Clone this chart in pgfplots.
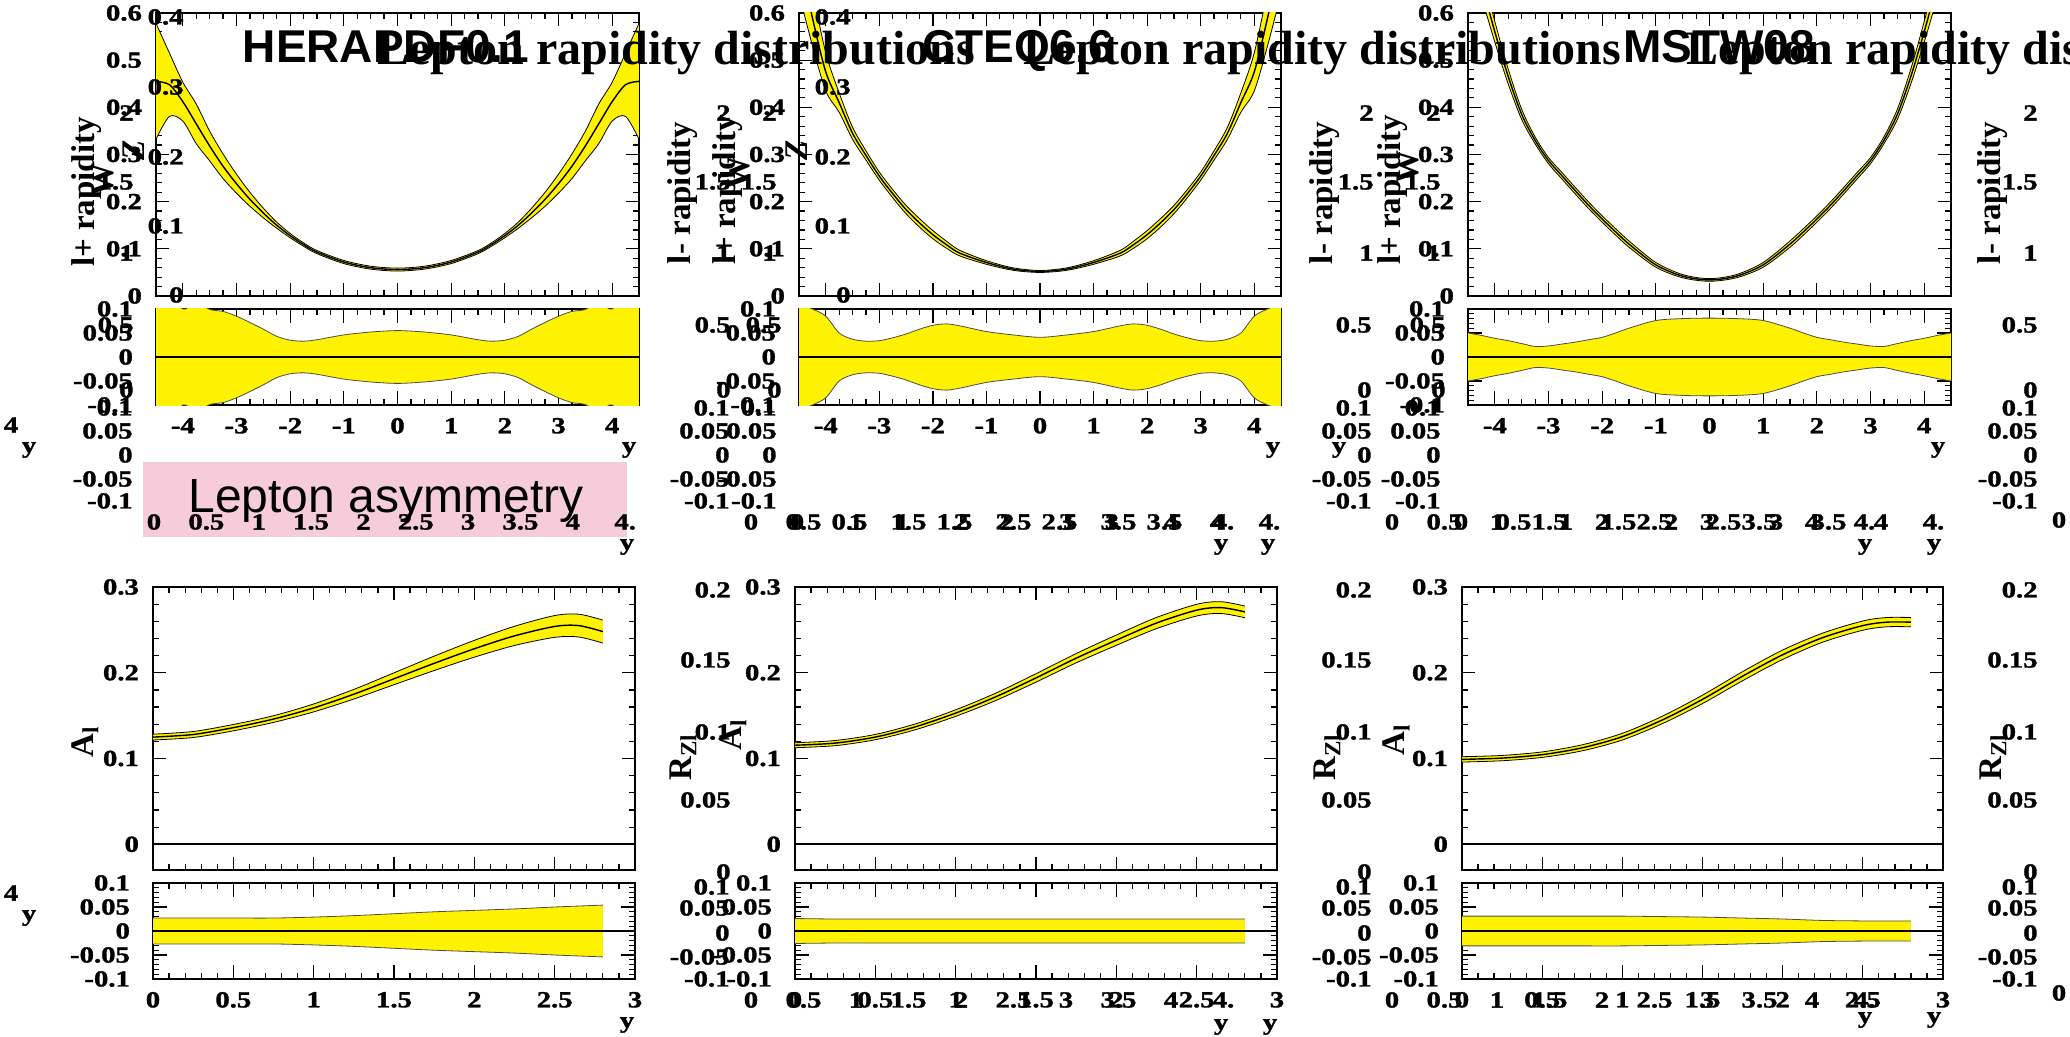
\documentclass[border=0pt]{standalone}
\usepackage{pgfplots}
\pgfplotsset{compat=1.18}
\usepackage{pgfplotstable}
\usepgfplotslibrary{fillbetween}
\usepackage{fontspec}
\setmainfont{Liberation Serif}
\newfontfamily\helv{Liberation Sans}
\newfontfamily\tlfam{Liberation Serif}[FakeStretch=1.25, BoldFeatures={FakeStretch=1.25, FakeBold=1.5}]
\definecolor{pinkbox}{RGB}{246,204,218}
\newcommand\tlfont{\tlfam\bfseries\fontsize{11.5}{12}\selectfont}
\newcommand\axfont{\fontsize{16.5}{18}\selectfont\bfseries}

% ---- data: top panels (x, central, lower, upper, rel. up, rel. down)
\pgfplotstableread{
x c lo hi r m
-4.5 .455 .3322 .5779 .270 -.270
-4.25 .448 .3808 .5152 .150 -.150
-4 .412 .3708 .4532 .100 -.100
-3.75 .365 .3230 .4070 .115 -.115
-3.5 .318 .2865 .3495 .099 -.099
-3.25 .275 .2489 .3011 .095 -.095
-3 .238 .2178 .2582 .085 -.085
-2.75 .205 .1902 .2198 .072 -.072
-2.5 .176 .1658 .1862 .058 -.058
-2.25 .150 .1436 .1565 .043 -.043
-2 .128 .1235 .1325 .035 -.035
-1.75 .109 .1054 .1126 .033 -.033
-1.5 .093 .0897 .0963 .036 -.036
-1 .072 .0687 .0753 .046 -.046
-0.5 .060 .0569 .0631 .052 -.052
0 .056 .0529 .0591 .055 -.055
0.5 .060 .0569 .0631 .052 -.052
1 .072 .0687 .0753 .046 -.046
1.5 .093 .0897 .0963 .036 -.036
1.75 .109 .1054 .1126 .033 -.033
2 .128 .1235 .1325 .035 -.035
2.25 .150 .1436 .1565 .043 -.043
2.5 .176 .1658 .1862 .058 -.058
2.75 .205 .1902 .2198 .072 -.072
3 .238 .2178 .2582 .085 -.085
3.25 .275 .2489 .3011 .095 -.095
3.5 .318 .2865 .3495 .099 -.099
3.75 .365 .3230 .4070 .115 -.115
4 .412 .3708 .4532 .100 -.100
4.25 .448 .3808 .5152 .150 -.150
4.5 .455 .3322 .5779 .270 -.270
}\tHtop
\pgfplotstableread{
x c lo hi r m
-4.5 .720 .6408 .7992 .110 -.110
-4.25 .590 .5310 .6490 .100 -.100
-4 .475 .4346 .5154 .085 -.085
-3.75 .410 .3895 .4305 .050 -.050
-3.5 .345 .3322 .3578 .037 -.037
-3.25 .298 .2882 .3078 .033 -.033
-3 .254 .2454 .2626 .034 -.034
-2.75 .217 .2083 .2257 .040 -.040
-2.5 .183 .1742 .1918 .048 -.048
-2.25 .155 .1460 .1640 .058 -.058
-2 .130 .1214 .1386 .066 -.066
-1.75 .109 .1015 .1165 .069 -.069
-1.5 .091 .0851 .0969 .065 -.065
-1 .071 .0672 .0748 .053 -.053
-0.5 .057 .0544 .0596 .046 -.046
0 .052 .0499 .0541 .041 -.041
0.5 .057 .0544 .0596 .046 -.046
1 .071 .0672 .0748 .053 -.053
1.5 .091 .0851 .0969 .065 -.065
1.75 .109 .1015 .1165 .069 -.069
2 .130 .1214 .1386 .066 -.066
2.25 .155 .1460 .1640 .058 -.058
2.5 .183 .1742 .1918 .048 -.048
2.75 .217 .2083 .2257 .040 -.040
3 .254 .2454 .2626 .034 -.034
3.25 .298 .2882 .3078 .033 -.033
3.5 .345 .3322 .3578 .037 -.037
3.75 .410 .3895 .4305 .050 -.050
4 .475 .4346 .5154 .085 -.085
4.25 .590 .5310 .6490 .100 -.100
4.5 .720 .6408 .7992 .110 -.110
}\tCtop
\pgfplotstableread{
x c lo hi r m
-4.5 .780 .7410 .8190 .050 -.050
-4.25 .665 .6351 .6949 .045 -.045
-4 .560 .5382 .5818 .039 -.039
-3.75 .465 .4492 .4808 .034 -.034
-3.5 .385 .3742 .3958 .028 -.028
-3.25 .330 .3227 .3373 .022 -.022
-3 .287 .2804 .2936 .023 -.023
-2.75 .255 .2481 .2619 .027 -.027
-2.5 .223 .2161 .2299 .031 -.031
-2.25 .192 .1851 .1989 .036 -.036
-2 .163 .1563 .1697 .041 -.041
-1.75 .136 .1292 .1428 .050 -.050
-1.5 .110 .1034 .1166 .060 -.060
-1 .066 .0610 .0710 .076 -.076
-0.5 .042 .0386 .0454 .080 -.080
0 .034 .0312 .0368 .081 -.081
0.5 .042 .0386 .0454 .080 -.080
1 .066 .0610 .0710 .076 -.076
1.5 .110 .1034 .1166 .060 -.060
1.75 .136 .1292 .1428 .050 -.050
2 .163 .1563 .1697 .041 -.041
2.25 .192 .1851 .1989 .036 -.036
2.5 .223 .2161 .2299 .031 -.031
2.75 .255 .2481 .2619 .027 -.027
3 .287 .2804 .2936 .023 -.023
3.25 .330 .3227 .3373 .022 -.022
3.5 .385 .3742 .3958 .028 -.028
3.75 .465 .4492 .4808 .034 -.034
4 .560 .5382 .5818 .039 -.039
4.25 .665 .6351 .6949 .045 -.045
4.5 .780 .7410 .8190 .050 -.050
}\tMtop
% ---- data: lepton asymmetry
\pgfplotstableread{
x c lo hi r m
0 .125 .1216 .1284 .027 -.027
0.25 .128 .1245 .1315 .027 -.027
0.5 .136 .1323 .1397 .027 -.027
0.75 .146 .1421 .1499 .027 -.027
1 .159 .1544 .1636 .029 -.029
1.25 .175 .1694 .1806 .032 -.032
1.5 .193 .1861 .1999 .036 -.036
1.75 .211 .2026 .2194 .040 -.040
2 .228 .2182 .2378 .043 -.043
2.25 .243 .2318 .2542 .046 -.046
2.5 .254 .2413 .2667 .050 -.050
2.65 .255 .2417 .2683 .052 -.052
2.8 .248 .2346 .2614 .054 -.054
}\tHbot
\pgfplotstableread{
x c lo hi r m
0 .1155 .1126 .1184 .026 -.026
0.25 .118 .1150 .1210 .025 -.025
0.5 .125 .1219 .1281 .025 -.025
0.75 .137 .1336 .1404 .025 -.025
1 .153 .1492 .1568 .025 -.025
1.25 .172 .1677 .1763 .025 -.025
1.5 .194 .1891 .1989 .025 -.025
1.75 .217 .2116 .2224 .025 -.025
2 .238 .2320 .2440 .025 -.025
2.25 .258 .2515 .2645 .025 -.025
2.5 .273 .2662 .2798 .025 -.025
2.65 .276 .2691 .2829 .025 -.025
2.8 .271 .2642 .2778 .025 -.025
}\tCbot
\pgfplotstableread{
x c lo hi r m
0 .099 .0959 .1021 .031 -.031
0.25 .1005 .0974 .1036 .031 -.031
0.5 .1045 .1013 .1077 .031 -.031
0.75 .1125 .1090 .1160 .031 -.031
1 .1255 .1216 .1294 .031 -.031
1.25 .145 .1407 .1494 .030 -.030
1.5 .169 .1641 .1739 .029 -.029
1.75 .196 .1907 .2013 .027 -.027
2 .221 .2155 .2265 .025 -.025
2.25 .241 .2357 .2463 .022 -.022
2.5 .255 .2496 .2604 .021 -.021
2.65 .259 .2536 .2644 .021 -.021
2.8 .259 .2536 .2644 .021 -.021
}\tMbot

\pgfplotsset{
  rbase/.style={scale only axis, anchor=north west,
    axis line style={line width=0.9pt},
    tick align=inside,
    major tick length=6.5pt, minor tick length=3pt,
    tick style={black, line width=0.6pt},
    tick label style={font=\tlfont},
    /pgf/number format/assume math mode=true,
    /pgf/number format/fixed,
    yticklabel style={xshift=-3.5pt},
    xticklabel style={yshift=-3pt}},
  topmain/.style={rbase, height=141.5pt, xmin=-4.5, xmax=4.5, ymin=0, ymax=0.6,
    xtick={-4,-3,-2,-1,0,1,2,3,4}, xticklabels={}, minor x tick num=3,
    ytick={0,0.1,0.2,0.3,0.4,0.5,0.6}, minor y tick num=4},
  topratio/.style={rbase, height=48pt, xmin=-4.5, xmax=4.5, ymin=-0.1, ymax=0.1,
    major tick length=7pt, yticklabel style={xshift=-4.5pt},
    xtick={-4,-3,-2,-1,0,1,2,3,4}, minor x tick num=3,
    ytick={-0.1,-0.05,0,0.05,0.1}, minor y tick num=4},
  botmain/.style={rbase, height=141.5pt, xmin=0, xmax=3, ymin=-0.03, ymax=0.3,
    xtick={0,0.5,1,1.5,2,2.5,3}, xticklabels={}, minor x tick num=4,
    ytick={0,0.1,0.2,0.3}, minor y tick num=4},
  botratio/.style={rbase, height=48pt, xmin=0, xmax=3, ymin=-0.1, ymax=0.1,
    major tick length=7pt, yticklabel style={xshift=-4.5pt},
    xtick={0,0.5,1,1.5,2,2.5,3}, minor x tick num=4,
    ytick={-0.1,-0.05,0,0.05,0.1}, minor y tick num=4},
}

\newcommand\mainband[2]{%
  \addplot[name path=U#2, draw=none, smooth] table[x=x,y=hi]{#1};
  \addplot[name path=D#2, draw=none, smooth] table[x=x,y=lo]{#1};
  \addplot[fill=yellow, draw=none] fill between[of=U#2 and D#2];
  \addplot[black, line width=0.4pt, smooth] table[x=x,y=hi]{#1};
  \addplot[black, line width=0.4pt, smooth] table[x=x,y=lo]{#1};
  \addplot[black, line width=0.7pt, smooth] table[x=x,y=c]{#1};
}
\newcommand\ratioband[4]{%
  \addplot[name path=U#4, draw=none, smooth] table[x=x,y=r]{#1};
  \addplot[name path=D#4, draw=none, smooth] table[x=x,y=m]{#1};
  \addplot[fill=yellow, draw=none] fill between[of=U#4 and D#4];
  \addplot[black!70, line width=0.4pt, smooth] table[x=x,y=r]{#1};
  \addplot[black!70, line width=0.4pt, smooth] table[x=x,y=m]{#1};
  \addplot[black, line width=0.6pt] coordinates {(#2,0) (#3,0)};
}

\tikzset{lab/.style={font=\tlfont, inner sep=0pt}}
\newcommand\lb[3]{\node[lab] at (#1*0.5pt,-#2*0.5pt) {#3};}
\newcommand\lbe[3]{\node[lab,anchor=east] at (#1*0.5pt,-#2*0.5pt) {#3};}
\newcommand\rot[3]{\node[font=\axfont, inner sep=0pt, rotate=90] at (#1*0.5pt,-#2*0.5pt) {#3};}
\newcommand\xrow[2]{\foreach \v/\t in {0/0,0.5/0.5,1/1,1.5/1.5,2/2,2.5/2.5,3/3,3.5/3.5,4/4,4.5/4.}{\node[lab] at ({(#1+\v*105)*0.5pt},{-#2*0.5pt}) {\t};}}
\newcommand\rsetTop[1]{\lbe{#1}{408}{0.1}\lbe{#1}{431}{0.05}\lbe{#1}{455}{0}\lbe{#1}{479}{-0.05}\lbe{#1}{501}{-0.1}}
\newcommand\rsetBot[1]{\lbe{#1}{887}{0.1}\lbe{#1}{908}{0.05}\lbe{#1}{933}{0}\lbe{#1}{957}{-0.05}\lbe{#1}{979}{-0.1}}
\newcommand\rzset[1]{\lbe{#1}{590}{0.2}\lbe{#1}{660}{0.15}\lbe{#1}{732}{0.1}\lbe{#1}{800}{0.05}\lbe{#1}{872}{0}}
\newcommand\onetwo[1]{\lbe{#1}{113}{2}\lbe{#1}{182}{1.5}\lbe{#1}{253}{1}}
\newcommand\mini[1]{\lbe{#1}{325}{0.5}\lbe{#1}{390}{0}}
\newcommand\inner[1]{\lbe{#1}{17}{0.4}\lbe{#1}{87}{0.3}\lbe{#1}{157}{0.2}\lbe{#1}{226}{0.1}\lbe{#1}{295}{0}}

\begin{document}
\begin{tikzpicture}

% ---------- top row
\begin{axis}[topmain, at={(78pt,-6.5pt)}, width=241.5pt]
\mainband{\tHtop}{a}
\end{axis}
\begin{axis}[topratio, at={(78pt,-154.5pt)}, width=241.5pt]
\ratioband{\tHtop}{-4.5}{4.5}{b}
\end{axis}
\begin{axis}[topmain, at={(399.5pt,-6.5pt)}, width=241pt]
\mainband{\tCtop}{c}
\end{axis}
\begin{axis}[topratio, at={(399.5pt,-154.5pt)}, width=241pt]
\ratioband{\tCtop}{-4.5}{4.5}{d}
\end{axis}
\begin{axis}[topmain, at={(734pt,-6.5pt)}, width=241.5pt]
\mainband{\tMtop}{e}
\end{axis}
\begin{axis}[topratio, at={(734pt,-154.5pt)}, width=241.5pt]
\ratioband{\tMtop}{-4.5}{4.5}{f}
\end{axis}

% ---------- bottom row
\begin{axis}[botmain, at={(76.5pt,-293.5pt)}, width=241pt]
\mainband{\tHbot}{g}
\addplot[black, line width=0.9pt] coordinates {(0,0) (3,0)};
\end{axis}
\begin{axis}[botratio, at={(76.5pt,-441.5pt)}, width=241pt]
\ratioband{\tHbot}{0}{3}{h}
\end{axis}
\begin{axis}[botmain, at={(397.5pt,-293.5pt)}, width=241pt]
\mainband{\tCbot}{i}
\addplot[black, line width=0.9pt] coordinates {(0,0) (3,0)};
\end{axis}
\begin{axis}[botratio, at={(397.5pt,-441.5pt)}, width=241pt]
\ratioband{\tCbot}{0}{3}{j}
\end{axis}
\begin{axis}[botmain, at={(731pt,-293.5pt)}, width=240.5pt]
\mainband{\tMbot}{k}
\addplot[black, line width=0.9pt] coordinates {(0,0) (3,0)};
\end{axis}
\begin{axis}[botratio, at={(731pt,-441.5pt)}, width=240.5pt]
\ratioband{\tMbot}{0}{3}{l}
\end{axis}

% ---------- stray labels of the overlapping pads
\inner{184}\inner{851}
\onetwo{134}\onetwo{731}\onetwo{777}\onetwo{1374}\onetwo{1441}\onetwo{2038}
\mini{134}\mini{731}\mini{782}\mini{1372}\mini{1446}\mini{2038}
\rsetTop{133}\rsetTop{730}\rsetTop{777}\rsetTop{1372}\rsetTop{1441}\rsetTop{2038}
\rsetBot{730}\rsetBot{1372}\rsetBot{2038}
\rzset{731}\rzset{1372}\rzset{2038}
\lb{2059}{520}{0}\lb{2059}{993}{0}

% axis titles
\rot{87}{192}{l+ rapidity}\rot{728}{190}{l+ rapidity}\rot{1393}{190}{l+ rapidity}
\rot{683}{193}{l- rapidity}\rot{1325}{193}{l- rapidity}\rot{1993}{193}{l- rapidity}
\rot{103}{180}{W}\rot{739}{173}{W}\rot{1408}{167}{W}
\node[font=\axfont\itshape, inner sep=0pt, rotate=90] at (134*0.5pt,-150*0.5pt) {Z};
\node[font=\axfont\itshape, inner sep=0pt, rotate=90] at (797*0.5pt,-150*0.5pt) {Z};
\rot{85}{742}{A\textsubscript{l}}\rot{733}{735}{A\textsubscript{l}}\rot{1396}{740}{A\textsubscript{l}}
\rot{683}{757}{R\textsubscript{Zl}}\rot{1327}{757}{R\textsubscript{Zl}}\rot{1993}{757}{R\textsubscript{Zl}}

% pink title box
\fill[pinkbox] (143*0.5pt,-462*0.5pt) rectangle (627*0.5pt,-537*0.5pt);
\node[font=\helv\fontsize{24}{28}\selectfont, anchor=base, inner sep=0pt] at (386*0.5pt,-512*0.5pt) {Lepton asymmetry};

% x label rows of hidden pads
\foreach \v/\t in {0/0,0.5/0.5,1/1,1.5/1.5,2/2,2.5/2.5,3/3,3.5/3.5,4/4,4.5/4.}{\node[lab] at ({(154+\v*104.7)*0.5pt},{-522*0.5pt}) {\t};}
\xrow{751}{522}\xrow{797}{522}\xrow{1392}{522}\xrow{1461}{522}
\xrow{751}{1000}\xrow{1392}{1000}

% "y" axis titles
\lb{629}{450}{y}\lb{1273}{450}{y}\lb{1938}{450}{y}\lb{1339}{450}{y}
\lb{627}{547}{y}\lb{1221}{547}{y}\lb{1268}{547}{y}\lb{1865}{547}{y}\lb{1934}{547}{y}
\lb{627}{1025}{y}\lb{1221}{1027}{y}\lb{1270}{1027}{y}\lb{1865}{1020}{y}\lb{1934}{1020}{y}
\lb{11}{425}{4}\lb{29}{450}{y}\lb{11}{893}{4}\lb{29}{918}{y}

% titles
\node[font=\helv\bfseries\fontsize{23}{26}\selectfont, anchor=base, inner sep=0pt] at (386*0.5pt,-63*0.5pt) {HERAPDF0.1};
\node[font=\helv\bfseries\fontsize{23}{26}\selectfont, anchor=base, inner sep=0pt] at (1018*0.5pt,-63*0.5pt) {CTEQ6.6};
\node[font=\helv\bfseries\fontsize{23}{26}\selectfont, anchor=base, inner sep=0pt] at (1719*0.5pt,-63*0.5pt) {MSTW08};
\node[font=\bfseries\fontsize{24}{28}\selectfont, anchor=base west, inner sep=0pt] at (377*0.5pt,-65*0.5pt) {Lepton rapidity distributions};
\node[font=\bfseries\fontsize{24}{28}\selectfont, anchor=base west, inner sep=0pt] at (1023*0.5pt,-65*0.5pt) {Lepton rapidity distributions};
\node[font=\bfseries\fontsize{24}{28}\selectfont, anchor=base west, inner sep=0pt] at (1686*0.5pt,-65*0.5pt) {Lepton rapidity distributions};

\pgfresetboundingbox
\path[use as bounding box] (0,0) rectangle (1035pt,-518.5pt);
\end{tikzpicture}
\end{document}
